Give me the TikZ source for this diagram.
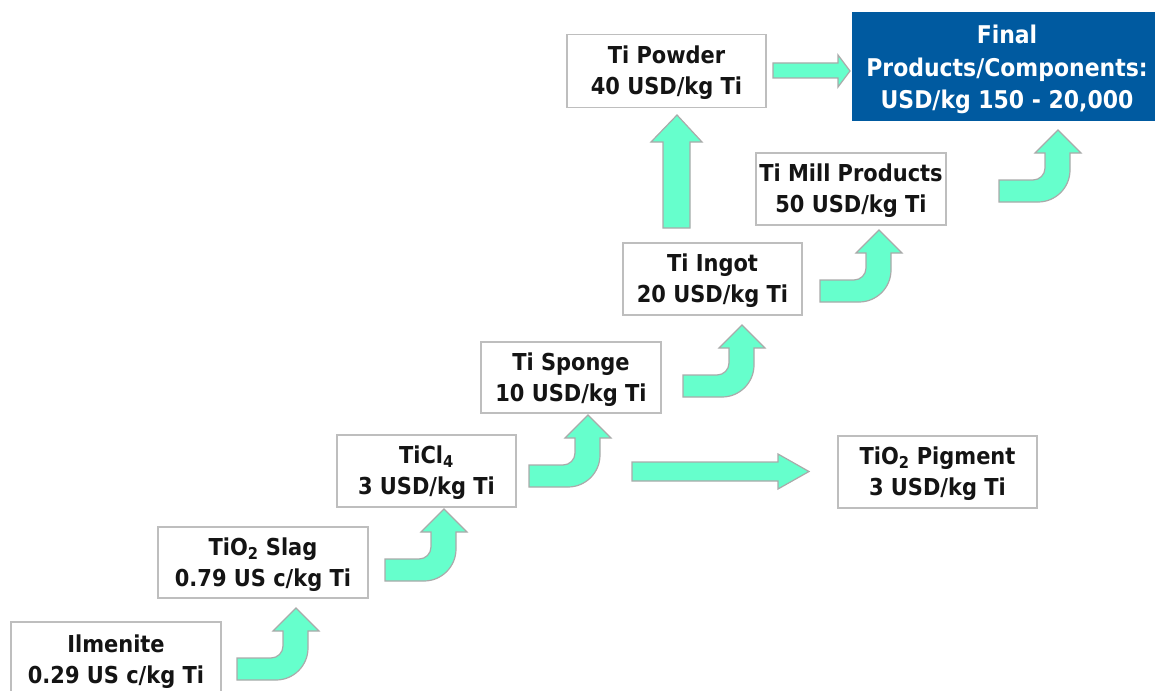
\documentclass[tikz,border=0pt]{standalone}
\usepackage{fontspec}
\setmainfont{DejaVu Sans Condensed}[BoldFont={DejaVu Sans Condensed Bold}]
\definecolor{mint}{RGB}{102,255,204}
\definecolor{mintedge}{RGB}{170,170,170}
\definecolor{boxedge}{RGB}{190,190,190}
\definecolor{deepblue}{RGB}{0,90,160}
\definecolor{inktext}{RGB}{20,20,20}
\begin{document}
\begin{tikzpicture}[x=1pt,y=-1pt,
  pricebox/.style={draw=boxedge,line width=1.5pt,fill=white,inner sep=0pt,
    align=center,font=\bfseries\fontsize{23.3}{31}\selectfont,text=inktext,
    text depth=1pt},
  finalbox/.style={fill=deepblue,inner sep=0pt},
  finaltext/.style={inner sep=0pt,align=center,
    font=\bfseries\fontsize{24.4}{32.5}\selectfont,text=white},
  blockarrow/.style={fill=mint,draw=mintedge,line width=1.2pt,line join=miter},
  bentup/.pic={
    \path[blockarrow] (0pt,0pt) -- (39pt,0pt)
      arc[start angle=-90,end angle=0,radius=32pt] -- (71pt,49pt)
      -- (82pt,49pt) -- (59pt,72pt) -- (36pt,49pt) -- (46pt,49pt) -- (46pt,34pt)
      arc[start angle=0,end angle=-90,radius=12pt] -- (0pt,22pt) -- cycle;
  }]
\useasboundingbox (0,0) rectangle (1155,690);
\clip (0,0) rectangle (1155,690);

% price boxes
\node[pricebox,minimum width=210pt,minimum height=75pt] (ilm) at (116,659.5)
  {Ilmenite\\0.29 US c/kg Ti};
\node[pricebox,minimum width=210pt,minimum height=71pt] (slag) at (263,562.5)
  {TiO\textsubscript{2} Slag\\0.79 US c/kg Ti};
\node[pricebox,minimum width=179pt,minimum height=72pt] (ticl) at (426.5,471)
  {TiCl\textsubscript{4}\\3 USD/kg Ti};
\node[pricebox,minimum width=180pt,minimum height=71pt] (sponge) at (571,377.5)
  {Ti Sponge\\10 USD/kg Ti};
\node[pricebox,minimum width=179pt,minimum height=72pt] (ingot) at (712.5,279)
  {Ti Ingot\\20 USD/kg Ti};
\node[pricebox,minimum width=190pt,minimum height=72pt] (mill) at (851,189)
  {Ti Mill Products\\50 USD/kg Ti};
\node[pricebox,minimum width=199pt,minimum height=73pt] (powder) at (666.5,71)
  {Ti Powder\\40 USD/kg Ti};
\node[pricebox,minimum width=199pt,minimum height=72pt] (pigment) at (937.5,472)
  {TiO\textsubscript{2} Pigment\\3 USD/kg Ti};

% final products box, its text set a little below centre
\node[finalbox,minimum width=310pt,minimum height=109pt] (final) at (1007,66.5) {};
\node[finaltext] (finallabel) at ([yshift=-3pt]final.center)
  {Final\\Products/Components:\\USD/kg 150 - 20,000};

% bent arrows between successive stages
\pic at (237,680) {bentup};
\pic at (385,581) {bentup};
\pic at (529,487) {bentup};
\pic at (683,397) {bentup};
\pic at (820,302) {bentup};
\pic at (999,202) {bentup};

% straight arrows
\path[blockarrow] (663,228) -- (663,142) -- (651,142) -- (677,115)
  -- (702,142) -- (690,142) -- (690,228) -- cycle;
\path[blockarrow] (773,63) -- (838,63) -- (838,55) -- (850,71)
  -- (838,87) -- (838,78) -- (773,78) -- cycle;
\path[blockarrow] (632,462) -- (778,462) -- (778,454) -- (809,471.5)
  -- (778,489) -- (778,481) -- (632,481) -- cycle;
\end{tikzpicture}
\end{document}
